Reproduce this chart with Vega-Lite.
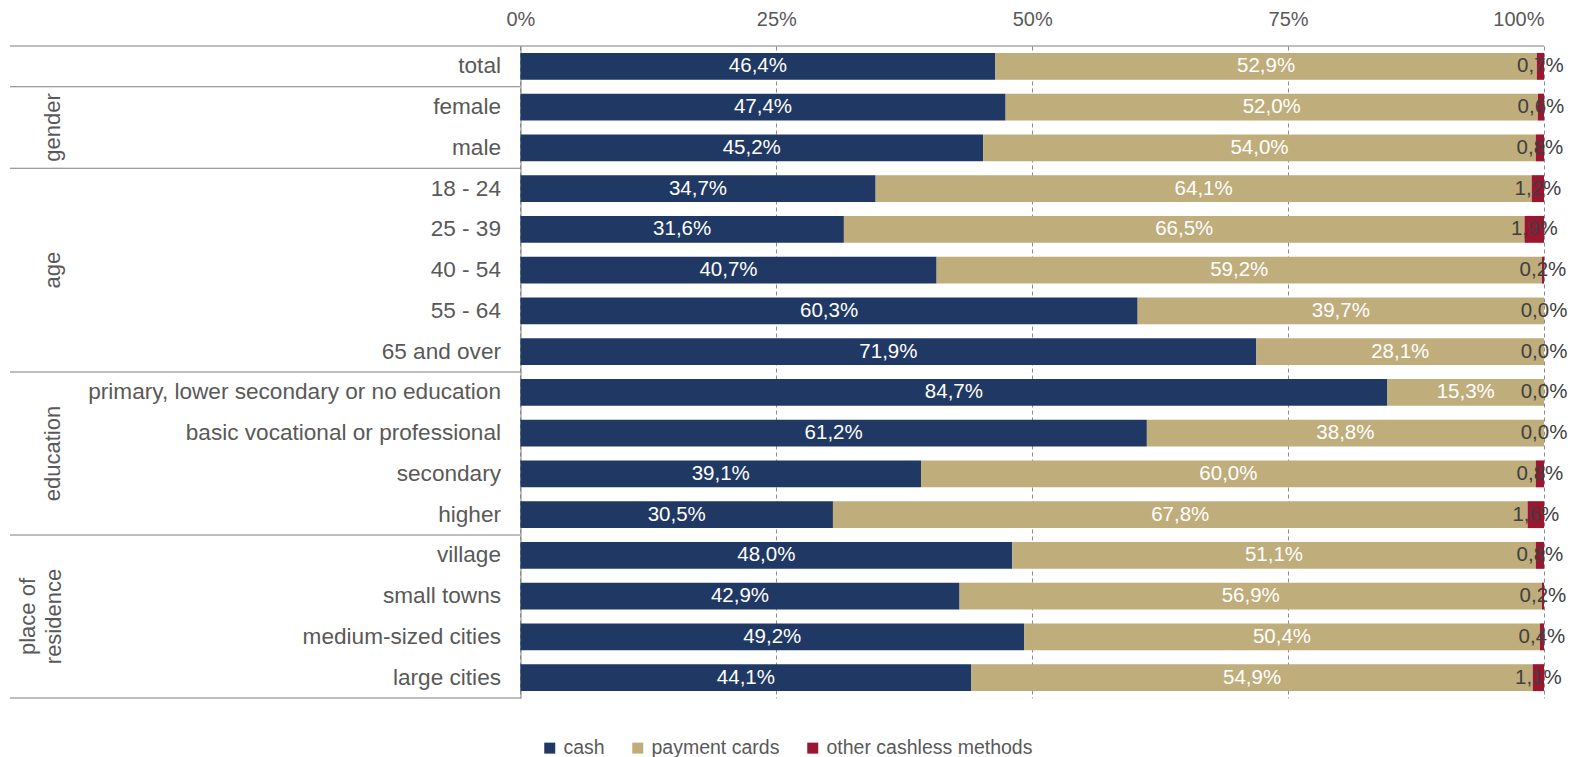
{
  "$schema": "https://vega.github.io/schema/vega-lite/v6.json",
  "width": 1534,
  "height": 652,
  "autosize": {"type": "none"},
  "padding": {"left": 10, "top": 46, "right": 30, "bottom": 59},
  "background": "white",
  "config": {
    "view": {"stroke": null},
    "font": "Liberation Sans",
    "locale": {"number": {"decimal": ",", "thousands": "\u00a0", "grouping": [3], "currency": ["", " zł"]}}
  },
  "datasets": {
    "shares": [
      {"row": "total", "cash": 0.464, "payment cards": 0.529, "other cashless methods": 0.007},
      {"row": "female", "cash": 0.474, "payment cards": 0.520, "other cashless methods": 0.006},
      {"row": "male", "cash": 0.452, "payment cards": 0.540, "other cashless methods": 0.008},
      {"row": "18 - 24", "cash": 0.347, "payment cards": 0.641, "other cashless methods": 0.012},
      {"row": "25 - 39", "cash": 0.316, "payment cards": 0.665, "other cashless methods": 0.019},
      {"row": "40 - 54", "cash": 0.407, "payment cards": 0.592, "other cashless methods": 0.002},
      {"row": "55 - 64", "cash": 0.603, "payment cards": 0.397, "other cashless methods": 0.0},
      {"row": "65 and over", "cash": 0.719, "payment cards": 0.281, "other cashless methods": 0.0},
      {"row": "primary, lower secondary or no education", "cash": 0.847, "payment cards": 0.153, "other cashless methods": 0.0},
      {"row": "basic vocational or professional", "cash": 0.612, "payment cards": 0.388, "other cashless methods": 0.0},
      {"row": "secondary", "cash": 0.391, "payment cards": 0.600, "other cashless methods": 0.008},
      {"row": "higher", "cash": 0.305, "payment cards": 0.678, "other cashless methods": 0.016},
      {"row": "village", "cash": 0.480, "payment cards": 0.511, "other cashless methods": 0.008},
      {"row": "small towns", "cash": 0.429, "payment cards": 0.569, "other cashless methods": 0.002},
      {"row": "medium-sized cities", "cash": 0.492, "payment cards": 0.504, "other cashless methods": 0.004},
      {"row": "large cities", "cash": 0.441, "payment cards": 0.549, "other cashless methods": 0.011}
    ],
    "separators": [
      {"row": "female"},
      {"row": "18 - 24"},
      {"row": "primary, lower secondary or no education"},
      {"row": "village"}
    ],
    "topline": [{"row": "total"}],
    "bottomline": [{"row": "large cities"}],
    "groupsEdge": [
      {"row": "male", "group": "gender"},
      {"row": "secondary", "group": "education"}
    ],
    "groupsMid": [{"row": "40 - 54", "group": "age"}],
    "groupsTwo": [{"row": "medium-sized cities", "group": "place of residence"}]
  },
  "layer": [
    {
      "data": {"name": "shares"},
      "transform": [
        {"fold": ["cash", "payment cards", "other cashless methods"], "as": ["method", "share"]},
        {"stack": "share", "groupby": ["row"], "offset": "normalize", "as": ["s0", "s1"]},
        {"calculate": "(datum.s0 + datum.s1) / 2", "as": "mid"}
      ],
      "layer": [
        {
          "mark": {"type": "bar", "height": {"band": 0.66}},
          "encoding": {
            "y": {
              "field": "row", "type": "nominal",
              "scale": {
                "domain": ["total", "female", "male", "18 - 24", "25 - 39", "40 - 54", "55 - 64", "65 and over", "primary, lower secondary or no education", "basic vocational or professional", "secondary", "higher", "village", "small towns", "medium-sized cities", "large cities"],
                "paddingInner": 0, "paddingOuter": 0
              },
              "axis": {
                "orient": "left", "offset": -510.5, "title": null, "ticks": false,
                "domain": true, "domainColor": "#7F7F7F", "domainWidth": 1,
                "labelFontSize": 22.6, "labelColor": "#595959", "labelPadding": 20,
                "labelLimit": 700, "labelFont": "Liberation Sans", "grid": false
              }
            },
            "x": {
              "field": "s0", "type": "quantitative",
              "scale": {"domain": [-0.4987, 1], "nice": false, "zero": false},
              "axis": {
                "orient": "top", "values": [0, 0.25, 0.5, 0.75, 1], "format": ".0%",
                "title": null, "domain": false, "ticks": false,
                "labelFontSize": 20, "labelColor": "#595959", "labelPadding": 17,
                "labelFont": "Liberation Sans",
                "grid": true, "gridDash": [4, 3], "gridColor": "#8C8C8C", "gridWidth": 1
              }
            },
            "x2": {"field": "s1"},
            "color": {
              "field": "method", "type": "nominal",
              "scale": {
                "domain": ["cash", "payment cards", "other cashless methods"],
                "range": ["#203864", "#BFAD7C", "#9A1631"]
              },
              "legend": {
                "orient": "none", "legendX": 530, "legendY": 692,
                "direction": "horizontal", "title": null,
                "symbolType": "square", "symbolSize": 121, "symbolStrokeWidth": 0,
                "labelFontSize": 19.5, "labelColor": "#595959", "labelFont": "Liberation Sans",
                "labelOffset": 4, "columnPadding": 23, "labelLimit": 400
              }
            }
          }
        },
        {
          "mark": {"type": "text", "fontSize": 20.5, "font": "Liberation Sans", "align": "center", "baseline": "middle"},
          "encoding": {
            "y": {"field": "row", "type": "nominal"},
            "x": {"field": "mid", "type": "quantitative"},
            "text": {"field": "share", "type": "quantitative", "format": ".1%"},
            "color": {
              "condition": {"test": "datum.method === 'other cashless methods'", "value": "#404040"},
              "value": "#FFFFFF"
            }
          }
        }
      ]
    },
    {
      "data": {"name": "separators"},
      "mark": {"type": "rule", "color": "#7F7F7F", "strokeWidth": 1},
      "encoding": {
        "y": {"field": "row", "type": "nominal", "bandPosition": 0},
        "x": {"datum": -0.4987, "type": "quantitative"},
        "x2": {"datum": 0}
      }
    },
    {
      "data": {"name": "bottomline"},
      "mark": {"type": "rule", "color": "#7F7F7F", "strokeWidth": 1},
      "encoding": {
        "y": {"field": "row", "type": "nominal", "bandPosition": 1},
        "x": {"datum": -0.4987, "type": "quantitative"},
        "x2": {"datum": 0}
      }
    },
    {
      "data": {"name": "topline"},
      "mark": {"type": "rule", "color": "#7F7F7F", "strokeWidth": 1},
      "encoding": {
        "y": {"field": "row", "type": "nominal", "bandPosition": 0},
        "x": {"datum": -0.4987, "type": "quantitative"},
        "x2": {"datum": 1}
      }
    },
    {
      "data": {"name": "groupsEdge"},
      "mark": {"type": "text", "angle": 270, "fontSize": 22, "font": "Liberation Sans", "color": "#595959", "align": "center", "baseline": "middle"},
      "encoding": {
        "y": {"field": "row", "type": "nominal", "bandPosition": 0},
        "x": {"datum": -0.4566, "type": "quantitative"},
        "text": {"field": "group"}
      }
    },
    {
      "data": {"name": "groupsMid"},
      "mark": {"type": "text", "angle": 270, "fontSize": 22, "font": "Liberation Sans", "color": "#595959", "align": "center", "baseline": "middle"},
      "encoding": {
        "y": {"field": "row", "type": "nominal"},
        "x": {"datum": -0.4566, "type": "quantitative"},
        "text": {"field": "group"}
      }
    },
    {
      "data": {"name": "groupsTwo"},
      "mark": {"type": "text", "angle": 270, "fontSize": 22, "font": "Liberation Sans", "color": "#595959", "align": "center", "baseline": "middle", "lineHeight": 26},
      "encoding": {
        "y": {"field": "row", "type": "nominal", "bandPosition": 0},
        "x": {"datum": -0.481, "type": "quantitative"},
        "text": {"value": ["place of", "residence"]}
      }
    }
  ]
}
